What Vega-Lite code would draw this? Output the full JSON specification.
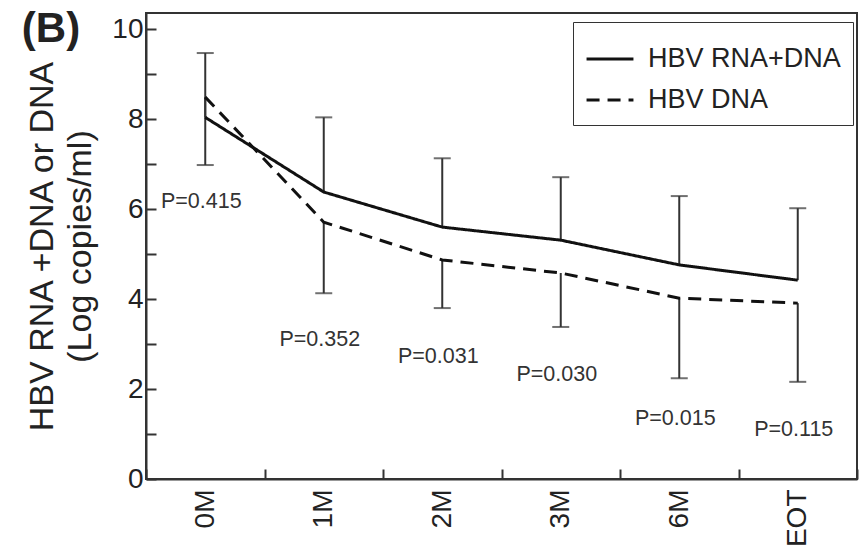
{
  "$schema": "https://vega.github.io/schema/vega-lite/v6.json",
  "width": 711,
  "height": 466,
  "autosize": {"type": "none"},
  "padding": {"left": 146, "top": 13, "right": 3, "bottom": 71},
  "background": "white",
  "config": {
    "font": "Liberation Sans",
    "view": {"stroke": "#333", "strokeWidth": 2},
    "axis": {
      "domainColor": "#333", "domainWidth": 2,
      "tickColor": "#333", "tickWidth": 2,
      "labelColor": "#222", "titleColor": "#222",
      "grid": false
    }
  },
  "title": {
    "text": "(B)", "anchor": "start", "frame": "bounds", "offset": -38,
    "fontSize": 42, "fontWeight": "bold", "color": "#222", "dx": -4
  },
  "datasets": {
    "lines": [
      {"t": "0M", "series": "HBV RNA+DNA", "value": 8.04},
      {"t": "1M", "series": "HBV RNA+DNA", "value": 6.38},
      {"t": "2M", "series": "HBV RNA+DNA", "value": 5.6},
      {"t": "3M", "series": "HBV RNA+DNA", "value": 5.31},
      {"t": "6M", "series": "HBV RNA+DNA", "value": 4.76},
      {"t": "EOT", "series": "HBV RNA+DNA", "value": 4.42},
      {"t": "0M", "series": "HBV DNA", "value": 8.49},
      {"t": "1M", "series": "HBV DNA", "value": 5.71},
      {"t": "2M", "series": "HBV DNA", "value": 4.87},
      {"t": "3M", "series": "HBV DNA", "value": 4.58},
      {"t": "6M", "series": "HBV DNA", "value": 4.02},
      {"t": "EOT", "series": "HBV DNA", "value": 3.91}
    ],
    "bars": [
      {"t": "0M", "from": 8.04, "to": 9.47},
      {"t": "0M", "from": 8.49, "to": 6.98},
      {"t": "1M", "from": 6.38, "to": 8.04},
      {"t": "1M", "from": 5.71, "to": 4.13},
      {"t": "2M", "from": 5.6, "to": 7.13},
      {"t": "2M", "from": 4.87, "to": 3.8},
      {"t": "3M", "from": 5.31, "to": 6.71},
      {"t": "3M", "from": 4.58, "to": 3.38},
      {"t": "6M", "from": 4.76, "to": 6.29},
      {"t": "6M", "from": 4.02, "to": 2.24},
      {"t": "EOT", "from": 4.42, "to": 6.02},
      {"t": "EOT", "from": 3.91, "to": 2.16}
    ],
    "pvals": [
      {"t": "0M", "y": 6.16, "label": "P=0.415"},
      {"t": "1M", "y": 3.09, "label": "P=0.352"},
      {"t": "2M", "y": 2.71, "label": "P=0.031"},
      {"t": "3M", "y": 2.31, "label": "P=0.030"},
      {"t": "6M", "y": 1.33, "label": "P=0.015"},
      {"t": "EOT", "y": 1.09, "label": "P=0.115"}
    ]
  },
  "encoding": {
    "x": {
      "field": "t", "type": "nominal",
      "sort": ["0M", "1M", "2M", "3M", "6M", "EOT"],
      "scale": {"type": "band", "paddingInner": 0, "paddingOuter": 0},
      "axis": {
        "title": null, "labelAngle": -90, "labelFontSize": 28,
        "labelAlign": "right", "labelBaseline": "middle",
        "tickBand": "extent", "tickSize": -10, "labelPadding": 20
      }
    }
  },
  "layer": [
    {
      "data": {"name": "bars"},
      "mark": {"type": "rule", "color": "#333", "strokeWidth": 2},
      "encoding": {
        "y": {"field": "from", "type": "quantitative"},
        "y2": {"field": "to"}
      }
    },
    {
      "data": {"name": "bars"},
      "mark": {"type": "tick", "color": "#333", "size": 17, "thickness": 2},
      "encoding": {
        "y": {"field": "to", "type": "quantitative"}
      }
    },
    {
      "data": {"name": "lines"},
      "mark": {"type": "line", "color": "#111", "strokeWidth": 3},
      "encoding": {
        "y": {
          "field": "value", "type": "quantitative",
          "scale": {"domain": [0, 10.36], "nice": false, "zero": true},
          "axis": {
            "values": [0, 1, 2, 3, 4, 5, 6, 7, 8, 9, 10],
            "labelExpr": "datum.value % 2 == 0 ? datum.label : ''",
            "labelFontSize": 28, "tickSize": -10, "labelPadding": 13,
            "title": ["HBV RNA  +DNA or DNA", "(Log copies/ml)"],
            "titleFontSize": 34, "titleFontWeight": "normal",
            "titleLineHeight": 38, "titlePadding": 14
          }
        },
        "strokeDash": {
          "field": "series", "type": "nominal",
          "scale": {"domain": ["HBV RNA+DNA", "HBV DNA"], "range": [[1, 0], [13, 8]]},
          "legend": {
            "title": null, "orient": "none", "legendX": 427, "legendY": 9,
            "strokeColor": "#333", "padding": 12, "fillColor": "white",
            "labelFontSize": 27, "labelColor": "#222", "labelOffset": 13,
            "symbolType": "stroke", "symbolSize": 2200, "symbolStrokeWidth": 3,
            "symbolStrokeColor": "#111", "rowPadding": 3, "labelLimit": 400
          }
        }
      }
    },
    {
      "data": {"name": "pvals"},
      "mark": {"type": "text", "fontSize": 21.5, "color": "#333", "dx": -4},
      "encoding": {
        "y": {"field": "y", "type": "quantitative"},
        "text": {"field": "label"}
      }
    }
  ]
}
